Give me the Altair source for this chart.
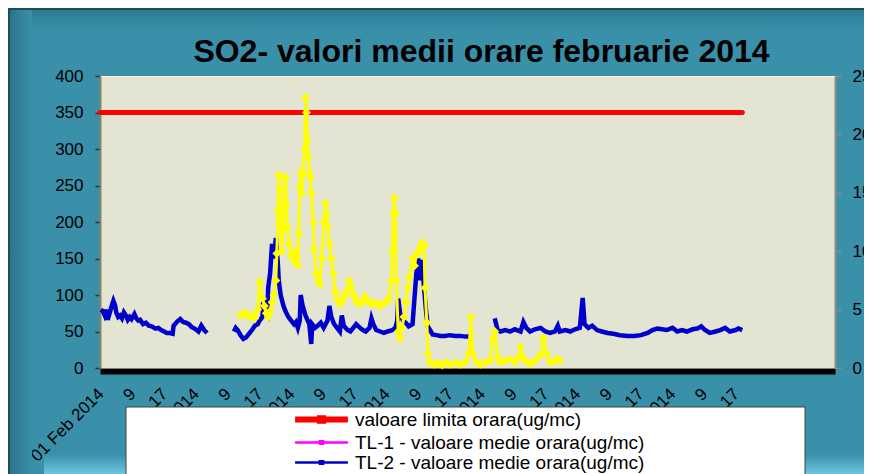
import json
import altair as alt
import pandas as pd

title_text = "SO2- valori medii orare  februarie 2014"

series_names = [
    "valoare limita orara(ug/mc)",
    "TL-1 - valoare medie orara(ug/mc)",
    "TL-2 - valoare medie orara(ug/mc)",
    "TL-4 - valoare medie orara(ug/mc)",
]
series_colors = ["#FF0000", "#FF00FF", "#0000CC", "#FFFF00"]

# hour index within February 2014 (0 = 01 Feb 00:00)
limit_hours = [0, 672]
limit_values = [350, 350]

tl1_hours = []
tl1_values = []

tl2_hours = [1, 3, 5, 7, 8, 10, 13, 14, 16, 17, 19, 21, 23, 25, 27, 29, 31, 33, 36, 38,
             40, 42, 45, 48, 51, 54, 58, 61, 64, 67, 70, 73, 76, 77, 81, 84, 87, 90, 93, 96,
             99, 103, 106, 109, 112, 125,
             140, 142, 144, 147, 150, 153, 156, 159, 162, 165, 167, 170, 171, 173, 175, 176,
             178, 180, 182, 184, 186, 187, 189, 192, 194, 197, 200, 203, 205, 207, 209, 210,
             212, 215, 217, 219, 221, 222, 225, 228, 231, 234, 238, 240, 242, 245, 248, 251,
             253, 255, 259, 262, 265, 268, 272, 275, 278, 282, 284, 286, 289, 293, 297, 301,
             306, 309, 311, 312, 314, 317, 320, 323, 327, 329, 331, 333, 335, 337, 339, 341,
             343, 348, 352, 356, 361, 366, 372, 377, 382, 387, 400,
             413, 416, 419, 424, 429, 434, 440, 443, 446, 450, 455, 461, 466, 471, 476, 479,
             481, 487, 492, 497, 502, 505, 507, 511, 515, 520, 525, 531, 537, 544, 552, 559,
             566, 573, 578, 583, 588, 593, 599, 604, 609, 614, 620, 625, 629, 633, 638, 644,
             649, 654, 659, 665, 668, 672]
tl2_values = [80, 78, 72, 80, 66, 75, 88, 92, 85, 76, 70, 72, 68, 76, 72, 66, 70, 67, 74, 68,
              65, 66, 60, 62, 58, 57, 54, 55, 52, 50, 48, 48, 47, 58, 64, 67, 63, 62, 60, 56,
              54, 50, 58, 52, 48, None,
              50, 55, 52, 45, 40, 42, 47, 52, 58, 60, 65, 70, 96, 80, 75, 110,
              130, 170, 150, 178, 145, 120, 100, 85, 78, 70, 65, 60, 63, 55, 65, 100,
              85, 72, 66, 60, 33, 60, 55, 58, 62, 55, 65, 85, 70, 60, 55, 50,
              72, 58, 52, 50, 55, 60, 55, 52, 50, 55, 68, 60, 52, 50, 48, 50,
              52, 55, 65, 95, 75, 65, 62, 57, 60, 95, 130, 150, 120, 148, 110, 80,
              57, 46, 45, 44, 44, 45, 44, 44, 43, 43, None,
              68, 52, 50, 52, 50, 53, 50, 63, 55, 50, 53, 55, 50, 48, 50, 58,
              50, 52, 50, 53, 55, 96, 60, 55, 58, 52, 50, 48, 47, 45, 44, 44,
              45, 48, 52, 54, 53, 52, 55, 50, 52, 50, 53, 54, 57, 52, 48, 50,
              52, 55, 50, 52, 54, 52]

tl4_hours = [147, 150, 153, 156, 159, 162, 165, 167, 170, 172, 174, 176, 178, 180, 182, 184,
             185, 186, 187, 188, 189, 190, 192, 193, 194, 195, 196, 198, 200, 202, 204, 205,
             206, 207, 208, 209, 210, 211, 212, 214, 215, 216, 217, 218, 219, 220, 221, 223,
             224, 226, 228, 230, 232, 234, 236, 237, 238, 240, 242, 244, 246, 248, 251, 254,
             256, 259, 261, 263, 265, 268, 271, 274, 277, 281, 284, 287, 290, 293, 296, 299,
             302, 305, 306, 307, 308, 309, 310, 312, 314, 316, 318, 320, 322, 324, 327, 329,
             331, 333, 335, 337, 339, 340, 342, 343, 345, 350, 354, 358, 362, 366, 372, 377,
             382, 386, 388, 390, 394, 398, 403, 408, 411, 413, 416, 419, 424, 429, 434, 438,
             440, 442, 445, 450, 455, 461, 464, 467, 471, 476, 479, 481]
tl4_values = [72, 75, 74, 70, 72, 68, 80, 118, 95, 85, 75, 70, 78, 90, 100, 120,
              157, 215, 264, 245, 200, 160, 190, 262, 259, 225, 193, 170, 155, 150, 145, 160,
              150, 141, 185, 248, 267, 240, 265, 300, 371, 350, 312, 289, 268, 260, 240, 199,
              162, 130, 120, 115, 150, 200, 226, 210, 195, 170, 150, 130, 105, 95, 88, 93,
              100, 108, 120, 110, 100, 92, 88, 90, 98, 90, 88, 90, 87, 85, 88, 90,
              95, 120, 160, 212, 233, 212, 120, 50, 40, 55, 70, 90, 110, 125, 150, 140,
              155, 159, 165, 172, 168, 110, 62, 20, 8, 5, 6, 4, 8, 5, 7, 5,
              8, 20, 70, 20, 8, 5, 8, 10, 40, 50, 15, 8, 10, 12, 8, 15,
              29, 15, 10, 6, 10, 18, 41, 20, 8, 10, 12, 10]

x_tick_hours = [1.0, 34.2, 67.5, 100.7, 133.9, 167.2, 200.4, 233.6, 266.8, 300.1, 333.3,
                366.5, 399.8, 433.0, 466.2, 499.5, 532.7, 565.9, 599.1, 632.4, 665.6]
x_tick_labels = ["01 Feb 2014", "9", "17", "02 Feb 2014", "9", "17", "03 Feb 2014", "9", "17",
                 "04 Feb 2014", "9", "17", "05 Feb 2014", "9", "17", "06 Feb 2014", "9", "17",
                 "07 Feb 2014", "9", "17"]
y_left_ticks = [0, 50, 100, 150, 200, 250, 300, 350, 400]
y_right_ticks = [0, 5, 10, 15, 20, 25]


def to_frame(name, hours, values):
    rows, seg = [], 0
    for h, v in zip(hours, values):
        if v is None:
            seg += 1
            continue
        rows.append({"series": name, "hour": h, "value": v, "seg": seg})
    return pd.DataFrame(rows, columns=["series", "hour", "value", "seg"])


df_limit = to_frame(series_names[0], limit_hours, limit_values)
df_tl1 = to_frame(series_names[1], tl1_hours, tl1_values)
df_tl2 = to_frame(series_names[2], tl2_hours, tl2_values)
df_tl4 = to_frame(series_names[3], tl4_hours, tl4_values)
one_row = pd.DataFrame({"k": [0]})

FONT = "Liberation Sans"
BG = "#3A8FA9"

label_expr = "{}[indexof({}, datum.value)]".format(json.dumps(x_tick_labels), json.dumps(x_tick_hours))

x_enc = alt.X(
    "hour:Q",
    scale=alt.Scale(domain=[0, 769], nice=False, zero=False),
    axis=alt.Axis(
        values=x_tick_hours, labelExpr=label_expr, labelAngle=315, labelAlign="right",
        labelBaseline="middle", labelFont=FONT, labelFontSize=17, labelColor="black",
        ticks=False, domainColor="black", domainWidth=6, offset=3, labelPadding=20,
        grid=False, title=None, labelOverlap=False, labelFlush=False, labelBound=False,
    ),
)
y_enc = alt.Y(
    "value:Q",
    scale=alt.Scale(domain=[0, 400], nice=False),
    axis=alt.Axis(
        values=y_left_ticks, labelFont=FONT, labelFontSize=17, labelColor="black",
        tickColor="#333333", tickSize=5, tickWidth=1.5, labelPadding=12,
        domainColor="#85856A", domainWidth=2, grid=False, title=None,
    ),
)

legend = alt.Legend(
    title=None, orient="none", legendX=212, legendY=334, direction="vertical",
    symbolType="M-3.3,0H3.3M-0.2,-0.15H0.2V0.15H-0.2Z", symbolSize=256,
    symbolStrokeWidth=alt.ExprRef(expr="datum.value == '" + series_names[0] + "' ? 6 : 2.5"),
    labelFont=FONT, labelFontSize=19, labelColor="black", labelLimit=0,
    rowPadding=0, labelOffset=24, padding=0, zindex=1,
)
color_enc = alt.Color(
    "series:N", scale=alt.Scale(domain=series_names, range=series_colors), legend=legend
)


def deco_rect(x, x2, y, y2, fill):
    return alt.Chart(one_row).mark_rect(fill=fill, strokeWidth=0).encode(
        x=alt.value(x), x2=alt.value(x2), y=alt.value(y), y2=alt.value(y2)
    )


def grad(c1, c2, vertical=True):
    return alt.Gradient(
        gradient="linear",
        stops=[alt.GradientStop(color=c1, offset=0), alt.GradientStop(color=c2, offset=1)],
        x1=0, y1=0, x2=0 if vertical else 1, y2=1 if vertical else 0,
    )


# chart frame / bevel (plot-area pixel coordinates; plot origin is at (92, 68) in the chart)
bevel_top = deco_rect(-92, 772, -68, -46, grad("#2C7890", BG))
bevel_left = deco_rect(-92, -68, -68, 398, grad("#2A7287", BG, vertical=False))
bevel_bottom = deco_rect(-56, 772, 378, 398, grad(BG, "#6CC6DE"))
frame_top = deco_rect(-92, 772, -68, -66, "#1C4E5C")
frame_left = deco_rect(-92, -90, -68, 398, "#1C4E5C")

red = alt.Chart(df_limit).mark_line(strokeWidth=5, strokeCap="round").encode(
    x=x_enc, y=y_enc, color=color_enc
)
blue = alt.Chart(df_tl2).mark_line(strokeWidth=4.5).encode(
    x=x_enc, y=y_enc, color=color_enc, detail="seg:N"
)
yellow_line = alt.Chart(df_tl4).mark_line(strokeWidth=3).encode(
    x=x_enc, y=y_enc, color=color_enc, detail="seg:N"
)
yellow_pts = alt.Chart(df_tl4).mark_point(shape="diamond", filled=True, size=80, opacity=1).encode(
    x=x_enc, y=y_enc, color=color_enc
)
box = alt.Chart(one_row).mark_rect(
    fill="white", stroke="#404040", strokeWidth=1
).encode(x=alt.value(26), x2=alt.value(705), y=alt.value(331), y2=alt.value(430))

left = alt.layer(bevel_top, bevel_left, bevel_bottom, frame_top, frame_left,
                 red, blue, yellow_line, yellow_pts, box)

right = alt.Chart(df_tl1).mark_line(strokeWidth=2).encode(
    x=x_enc,
    y=alt.Y(
        "value:Q",
        scale=alt.Scale(domain=[0, 25], nice=False),
        axis=alt.Axis(
            orient="right", values=y_right_ticks, labelFont=FONT, labelFontSize=17,
            labelColor="black", tickColor="#8C8C8C", tickSize=6, tickWidth=1.5,
            labelPadding=11, domainColor="#8C8C8C", domainWidth=2, grid=False, title=None,
        ),
    ),
    color=color_enc,
)

chart = (
    alt.layer(left, right)
    .resolve_scale(y="independent")
    .properties(
        width=735, height=292,
        padding={"left": 92, "top": 68, "right": 29, "bottom": 106},
        autosize="none",
        background=BG,
        title=alt.TitleParams(
            text=title_text, font=FONT, fontSize=32, fontWeight="bold", color="black",
            anchor="middle", frame="group", offset=-86, dx=14, baseline="alphabetic",
        ),
    )
    .configure_view(fill="#E4E4D2", stroke="#FFFFE0", strokeWidth=1)
)

chart.save("out.html", embed_options={"renderer": "svg", "actions": False})
